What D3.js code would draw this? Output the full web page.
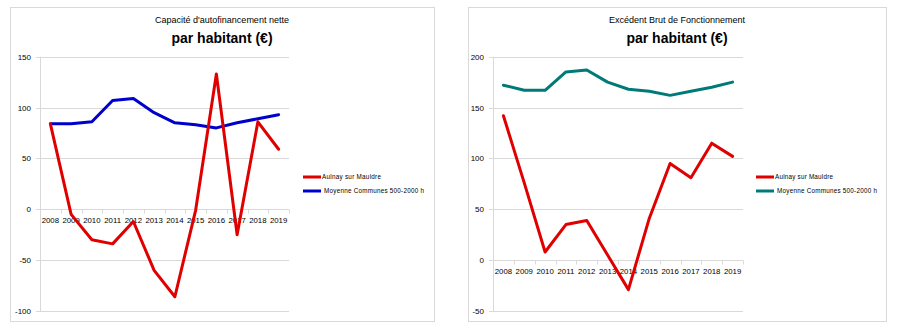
<!DOCTYPE html>
<html>
<head>
<meta charset="utf-8">
<script src="https://cdn.jsdelivr.net/npm/d3@7"></script>
<style>
  html, body { margin: 0; padding: 0; background: #fff; }
  svg { display: block; font-family: "Liberation Sans", Arial, sans-serif; }
</style>
</head>
<body>
<svg id="chart" width="899" height="332"></svg>
<script>
// ---- Data ----
const years = ["2008","2009","2010","2011","2012","2013","2014","2015","2016","2017","2018","2019"];

// Chart 1 : Capacité d'autofinancement nette par habitant (€)
const cafAulnay   = [84, -5, -30, -34, -12, -60, -86, -1, 133, -25, 86, 59];
const cafMoyenne  = [84, 84, 86, 107, 109, 95, 85, 83, 80, 85, 89, 93];
const cafTicks    = [-100, -50, 0, 50, 100, 150];

// Chart 2 : Excédent Brut de Fonctionnement par habitant (€)
const ebfAulnay   = [142, 76, 8, 35, 39, 5, -29, 41, 95, 81, 115, 102];
const ebfMoyenne  = [172, 167, 167, 185, 187, 175, 168, 166, 162, 166, 170, 175];
const ebfTicks    = [-50, 0, 50, 100, 150, 200];

const seriesNames = ["Aulnay sur Mauldre", " Moyenne Communes 500-2000 h"];

const svg = d3.select("#chart");

function drawChart(cfg) {
  const g = svg.append("g");
  // frame
  g.append("rect")
    .attr("x", cfg.box[0] + 0.5).attr("y", cfg.box[1] + 0.5)
    .attr("width", cfg.box[2]).attr("height", cfg.box[3])
    .attr("fill", "#fff").attr("stroke", "#d9d9d9").attr("stroke-width", 1);

  const x = d3.scaleBand().domain(years).range([cfg.plot.left, cfg.plot.right]);
  const y = d3.scaleLinear().domain(d3.extent(cfg.ticks)).range([cfg.plot.bottom, cfg.plot.top]);

  // gridlines
  g.append("g").selectAll("line").data(cfg.ticks).join("line")
    .attr("x1", cfg.plot.left - 4).attr("x2", cfg.plot.right)
    .attr("y1", d => Math.round(y(d)) + 0.5).attr("y2", d => Math.round(y(d)) + 0.5)
    .attr("stroke", "#d9d9d9").attr("stroke-width", 1);

  // y axis line
  g.append("line")
    .attr("x1", cfg.plot.left + 0.5).attr("x2", cfg.plot.left + 0.5)
    .attr("y1", cfg.plot.top).attr("y2", cfg.plot.bottom)
    .attr("stroke", "#d9d9d9");

  // y tick labels
  g.append("g").selectAll("text").data(cfg.ticks).join("text")
    .attr("x", cfg.plot.left - 9).attr("y", d => y(d) + 3)
    .attr("text-anchor", "end").attr("font-size", "8px").attr("fill", "#000")
    .text(d => d);

  // x axis (at zero) with tick marks at band boundaries
  const y0 = Math.round(y(0)) + 0.5;
  const bounds = years.map(d => x(d)).concat([cfg.plot.right]);
  g.append("g").selectAll("line").data(bounds).join("line")
    .attr("x1", d => Math.round(d) + 0.5).attr("x2", d => Math.round(d) + 0.5)
    .attr("y1", y0).attr("y2", y0 + 4)
    .attr("stroke", "#d9d9d9");

  // x labels
  g.append("g").selectAll("text").data(years).join("text")
    .attr("x", d => x(d) + x.bandwidth() / 2).attr("y", y(0) + 14)
    .attr("text-anchor", "middle").attr("font-size", "7.8px").attr("fill", "#000")
    .text(d => d);

  // lines
  const line = d3.line().x((d, i) => x(years[i]) + x.bandwidth() / 2).y(d => y(d));
  g.append("path").datum(cfg.moy).attr("d", line)
    .attr("fill", "none").attr("stroke", cfg.moyColor).attr("stroke-width", 3)
    .attr("stroke-linejoin", "round").attr("stroke-linecap", "round");
  g.append("path").datum(cfg.aul).attr("d", line)
    .attr("fill", "none").attr("stroke", "#e00000").attr("stroke-width", 3)
    .attr("stroke-linejoin", "round").attr("stroke-linecap", "round");

  // titles
  g.append("text").attr("x", cfg.titleX).attr("y", 23)
    .attr("text-anchor", "middle").attr("font-size", "9px").attr("fill", "#000")
    .text(cfg.title);
  g.append("text").attr("x", cfg.titleX).attr("y", 42.5)
    .attr("text-anchor", "middle").attr("font-size", "14px").attr("font-weight", "bold").attr("fill", "#000")
    .text("par habitant (€)");

  // legend
  const colors = ["#e00000", cfg.moyColor];
  const lg = g.append("g");
  seriesNames.forEach((name, i) => {
    const ly = 177 + i * 14;
    lg.append("line").attr("x1", cfg.legendX).attr("x2", cfg.legendX + 18)
      .attr("y1", ly).attr("y2", ly)
      .attr("stroke", colors[i]).attr("stroke-width", 3);
    lg.append("text").attr("x", cfg.legendX + 19).attr("y", ly + 2.3)
      .attr("font-size", "6.3px").attr("fill", "#000")
      .attr("textLength", cfg.legendW[i]).attr("lengthAdjust", "spacing")
      .attr("xml:space", "preserve")
      .text(name);
  });
}

drawChart({
  box: [10, 7, 424, 314],
  plot: { left: 40, right: 289, top: 56.7, bottom: 311 },
  ticks: cafTicks,
  aul: cafAulnay, moy: cafMoyenne, moyColor: "#0000cc",
  title: "Capacité d'autofinancement nette", titleX: 222,
  legendX: 303, legendW: [59, 102]
});

drawChart({
  box: [468, 7, 418, 314],
  plot: { left: 493, right: 743, top: 56.7, bottom: 311 },
  ticks: ebfTicks,
  aul: ebfAulnay, moy: ebfMoyenne, moyColor: "#007a78",
  title: "Excédent Brut de Fonctionnement", titleX: 677,
  legendX: 756, legendW: [58, 102]
});
</script>
</body>
</html>
